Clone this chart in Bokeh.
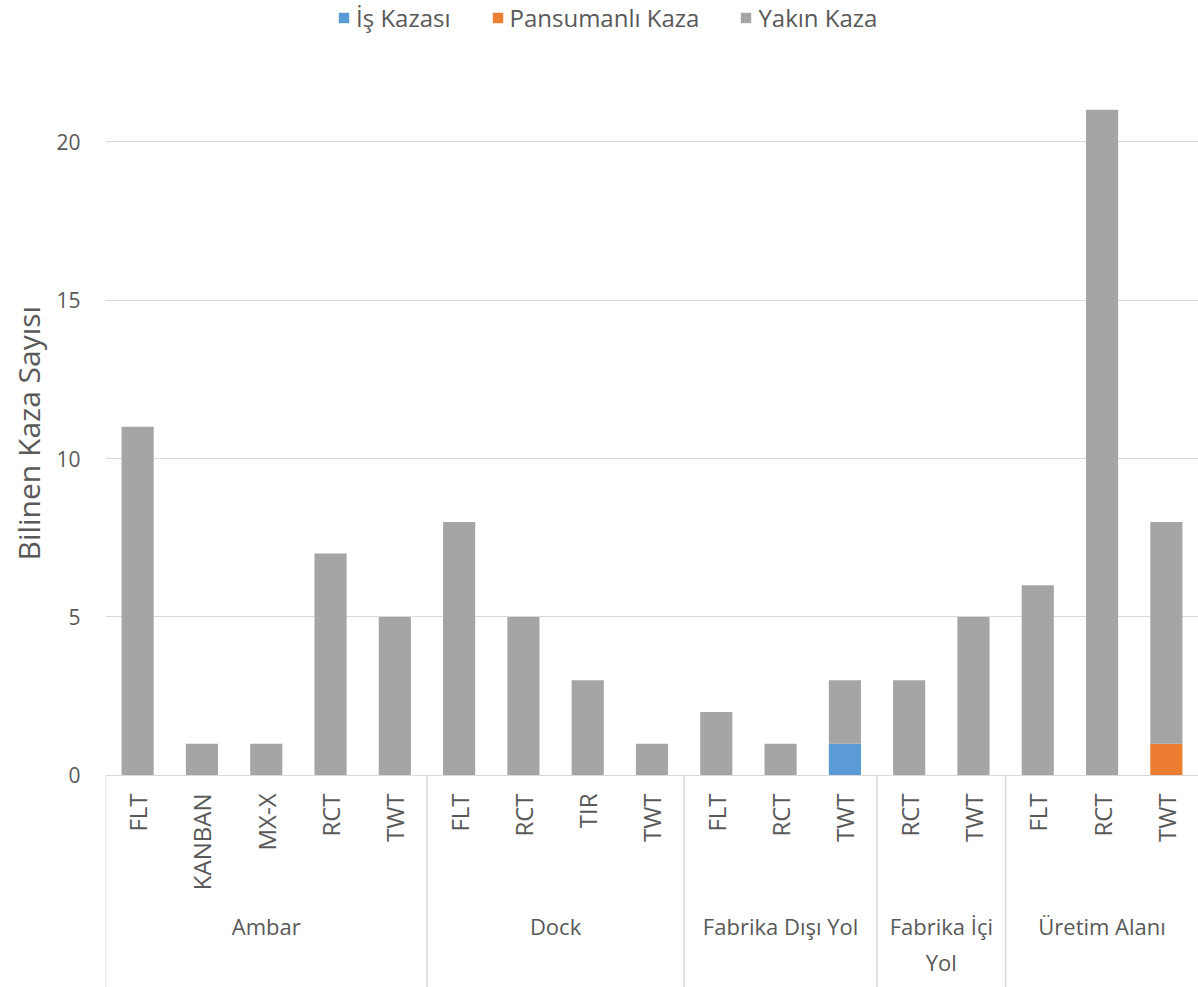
import math
from bokeh.plotting import figure
from bokeh.models import FactorRange, ColumnDataSource, FixedTicker, Title, Range1d
from bokeh.embed import file_html
from bokeh.resources import INLINE

# ---- data ----
groups = ["Ambar", "Dock", "Fabrika Dışı Yol", "Fabrika İçi\nYol", "Üretim Alanı"]
subcats = [
    ["FLT", "KANBAN", "MX-X", "RCT", "TWT"],
    ["FLT", "RCT", "TIR", "TWT"],
    ["FLT", "RCT", "TWT"],
    ["RCT", "TWT"],
    ["FLT", "RCT", "TWT"],
]
is_kazasi = [0, 0, 0, 0, 0, 0, 0, 0, 0, 0, 0, 1, 0, 0, 0, 0, 0]
pansumanli_kaza = [0, 0, 0, 0, 0, 0, 0, 0, 0, 0, 0, 0, 0, 0, 0, 0, 1]
yakin_kaza = [11, 1, 1, 7, 5, 8, 5, 3, 1, 2, 1, 2, 3, 5, 6, 21, 7]
series = ["İş Kazası", "Pansumanlı Kaza", "Yakın Kaza"]
colors = ["#5B9BD5", "#ED7D31", "#A5A5A5"]
y_ticks = [0, 5, 10, 15, 20]
y_title = "Bilinen Kaza Sayısı"

factors = [(g, s) for g, subs in zip(groups, subcats) for s in subs]
src = ColumnDataSource(dict(x=factors, **{
    series[0]: is_kazasi, series[1]: pansumanli_kaza, series[2]: yakin_kaza}))

FONT = "Open Sans"
TXT = "#595959"
GRID = "#D9D9D9"

y_lo, y_hi = -6.69, 24.45

p = figure(
    width=1198, height=987,
    x_range=FactorRange(*factors, factor_padding=0, group_padding=0,
                        subgroup_padding=0, range_padding=0),
    y_range=Range1d(y_lo, y_hi),
    output_backend="svg", toolbar_location=None,
    min_border_left=105, min_border_right=0, min_border_top=0, min_border_bottom=0,
)
p.outline_line_color = None
p.background_fill_color = "white"
p.border_fill_color = "white"

p.vbar_stack(series, x="x", width=0.5, source=src, color=colors,
             line_color=None, legend_label=series)

# y axis
p.yaxis.ticker = FixedTicker(ticks=y_ticks)
p.ygrid.ticker = FixedTicker(ticks=y_ticks)
p.ygrid.grid_line_color = GRID
p.xgrid.visible = False
p.yaxis.axis_line_color = None
p.yaxis.major_tick_line_color = None
p.yaxis.minor_tick_line_color = None
p.yaxis.major_tick_out = 0
p.yaxis.major_label_standoff = 25
p.yaxis.major_label_text_font = FONT
p.yaxis.major_label_text_font_size = "21px"
p.yaxis.major_label_text_color = TXT

# y title (left side, positioned along the axis)
p.add_layout(Title(text=y_title, align="left", offset=427, text_font=FONT,
                   text_font_size="30px", text_font_style="normal",
                   text_color=TXT, standoff=10), "left")

# x axis placed at y=0 inside the frame
xa = p.xaxis[0]
xa.fixed_location = 0
xa.axis_line_color = GRID
xa.major_tick_line_color = None
xa.minor_tick_line_color = None
xa.major_tick_out = 0
xa.major_tick_in = 0
xa.major_label_standoff = 18
xa.major_label_orientation = math.pi / 2
xa.major_label_text_font = FONT
xa.major_label_text_font_size = "24px"
xa.major_label_text_color = TXT
xa.group_text_font = FONT
xa.group_text_font_size = "22px"
xa.group_text_color = TXT
xa.group_text_font_style = "normal"
xa.separator_line_color = None

# group separators from the axis down to the bottom
bounds = [0]
for subs in subcats[:-1]:
    bounds.append(bounds[-1] + len(subs))
p.segment(x0=bounds, y0=[0] * len(bounds), x1=bounds, y1=[y_lo] * len(bounds),
          line_color=GRID, line_width=1.5)

lg = p.legend[0]
lg.location = (232, 953)
lg.orientation = "horizontal"
lg.border_line_color = None
lg.background_fill_alpha = 0
lg.label_text_font = FONT
lg.label_text_font_size = "24px"
lg.label_text_color = TXT
lg.glyph_width = 13
lg.glyph_height = 13
lg.label_standoff = 6
lg.spacing = 40
lg.margin = 0
lg.padding = 0

open("out.html", "w").write(file_html(p, INLINE))
